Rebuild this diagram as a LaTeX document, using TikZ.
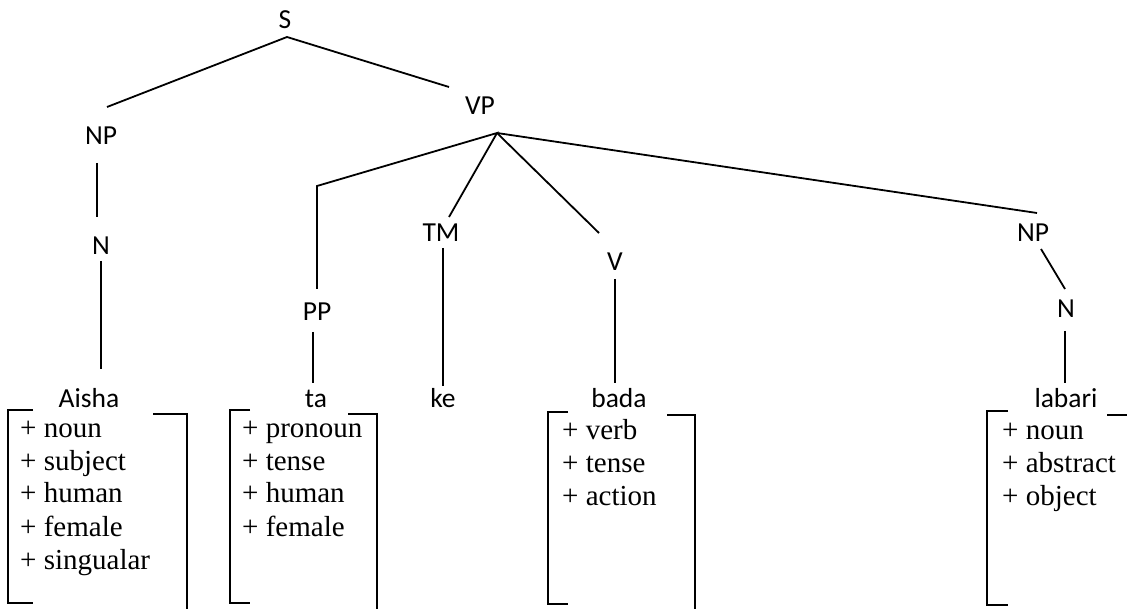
\documentclass[tikz,border=0pt]{standalone}
\usepackage{fontspec}
\setmainfont{Liberation Serif}
\newfontfamily\catfont{Carlito}
\begin{document}
\begin{tikzpicture}[x=1pt,y=-1pt,
  cat/.style={anchor=base,inner sep=0pt,font=\catfont\fontsize{27.5}{33}\selectfont},
  word/.style={cat},
  feats/.style={anchor=base west,inner sep=0pt,font=\fontsize{29}{33}\selectfont},
  branch/.style={line width=1.8pt},
  bracket/.style={line width=1.8pt}]
\useasboundingbox (0,0) rectangle (1127,609);

% category labels
\node[cat] (S)   at (285,29)  {S};
\node[cat] (NP1) at (101,145) {NP};
\node[cat] (VP)  at (480,115) {VP};
\node[cat] (N1)  at (101,255) {N};
\node[cat] (PP)  at (317,321) {PP};
\node[cat] (TM)  at (441,242) {TM};
\node[cat] (V)   at (615,271) {V};
\node[cat] (NP2) at (1033,242) {NP};
\node[cat] (N2)  at (1066,318) {N};

% words
\node[word] (aisha)  at (89,407)   {Aisha};
\node[word] (ta)     at (316,407)  {ta};
\node[word] (ke)     at (443,407)  {ke};
\node[word] (bada)   at (619,407)  {bada};
\node[word] (labari) at (1066,407) {labari};

% attachment points of the branches
\coordinate (S-foot)    at (287,37);
\coordinate (NP1-head)  at (107,107);
\coordinate (VP-head)   at (449,87);
\coordinate (NP1-foot)  at (97,163);
\coordinate (N1-head)   at (97,217);
\coordinate (N1-foot)   at (101,261);
\coordinate (aisha-head) at (101,369);
\coordinate (VP-foot)   at (497,133);
\coordinate (PP-elbow)  at (317,186);
\coordinate (PP-head)   at (317,289);
\coordinate (PP-foot)   at (313,332);
\coordinate (ta-head)   at (313,383);
\coordinate (TM-head)   at (449,217);
\coordinate (TM-foot)   at (443,248);
\coordinate (ke-head)   at (443,386);
\coordinate (V-head)    at (599,233);
\coordinate (V-foot)    at (615,279);
\coordinate (bada-head) at (615,383);
\coordinate (NP2-head)  at (1037,213);
\coordinate (NP2-foot)  at (1041,249);
\coordinate (N2-head)   at (1065,289);
\coordinate (N2-foot)   at (1065,331);
\coordinate (labari-head) at (1065,383);

% branches
\draw[branch] (NP1-head) -- (S-foot) -- (VP-head);
\draw[branch] (NP1-foot) -- (N1-head);
\draw[branch] (N1-foot) -- (aisha-head);
\draw[branch] (PP-head) -- (PP-elbow) -- (VP-foot) -- (TM-head);
\draw[branch] (VP-foot) -- (V-head);
\draw[branch] (VP-foot) -- (NP2-head);
\draw[branch] (PP-foot) -- (ta-head);
\draw[branch] (TM-foot) -- (ke-head);
\draw[branch] (V-foot) -- (bada-head);
\draw[branch] (NP2-foot) -- (N2-head);
\draw[branch] (N2-foot) -- (labari-head);

% feature matrices
\node[feats] (aisha-f) at (20,437) {\begin{tabular}[t]{@{}l@{}}+ noun\\+ subject\\+ human\\+ female\\+ singualar\end{tabular}};
\draw[bracket] (33,410) -- (8,410) -- (8,603) -- (33,603);
\draw[bracket] (153,414) -- (187,414) -- (187,609);

\node[feats] (ta-f) at (242,437) {\begin{tabular}[t]{@{}l@{}}+ pronoun\\+ tense\\+ human\\+ female\end{tabular}};
\draw[bracket] (250,410) -- (230,410) -- (230,603) -- (250,603);
\draw[bracket] (348,414) -- (377,414) -- (377,609);

\node[feats] (bada-f) at (562,439) {\begin{tabular}[t]{@{}l@{}}+ verb\\+ tense\\+ action\end{tabular}};
\draw[bracket] (568,412) -- (548,412) -- (548,604) -- (568,604);
\draw[bracket] (667,415) -- (695,415) -- (695,609);

\node[feats] (labari-f) at (1002,439) {\begin{tabular}[t]{@{}l@{}}+ noun\\+ abstract\\+ object\end{tabular}};
\draw[bracket] (1008,411) -- (987,411) -- (987,605) -- (1008,605);
\draw[bracket] (1107,415) -- (1127,415);
\end{tikzpicture}
\end{document}
